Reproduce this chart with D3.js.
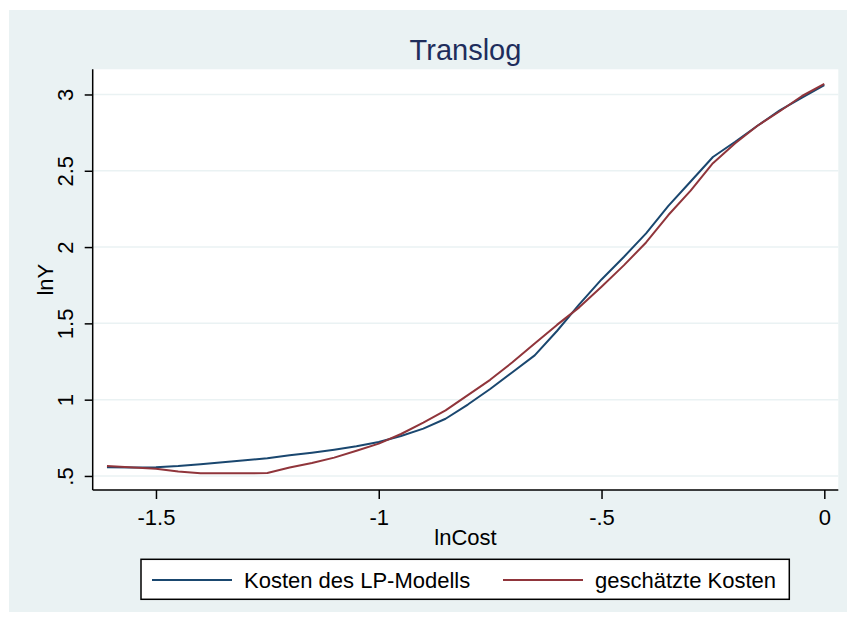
<!DOCTYPE html>
<html>
<head>
<meta charset="utf-8">
<script src="https://cdn.jsdelivr.net/npm/d3@7"></script>
<style>
  html, body { margin: 0; padding: 0; background: #ffffff; }
  svg { display: block; font-family: "Liberation Sans", Arial, sans-serif; }
</style>
</head>
<body>
<svg id="chart" width="847" height="618"></svg>
<script>
// ---- Data ----
const lnCost = [-1.61, -1.55, -1.50, -1.45, -1.40, -1.35, -1.30, -1.25, -1.20, -1.15,
                -1.10, -1.05, -1.00, -0.95, -0.90, -0.85, -0.80, -0.75, -0.70, -0.65,
                -0.60, -0.55, -0.50, -0.45, -0.40, -0.35, -0.30, -0.25, -0.20, -0.15,
                -0.10, -0.05, 0.00];
const kostenLP = [0.557, 0.556, 0.557, 0.565, 0.577, 0.590, 0.603, 0.616, 0.635, 0.652,
                  0.672, 0.695, 0.722, 0.762, 0.810, 0.875, 0.968, 1.070, 1.180, 1.290,
                  1.450, 1.625, 1.788, 1.935, 2.090, 2.270, 2.430, 2.590, 2.690, 2.795,
                  2.896, 2.980, 3.062];
const geschaetzt = [0.565, 0.556, 0.548, 0.530, 0.518, 0.518, 0.518, 0.519, 0.556, 0.585,
                    0.620, 0.665, 0.712, 0.775, 0.850, 0.930, 1.030, 1.130, 1.245, 1.368,
                    1.490, 1.605, 1.740, 1.880, 2.030, 2.210, 2.370, 2.550, 2.680, 2.795,
                    2.890, 2.990, 3.069];
const xTicks = [-1.5, -1, -0.5, 0];
const xTickLabels = ["-1.5", "-1", "-.5", "0"];
const yTicks = [0.5, 1, 1.5, 2, 2.5, 3];
const yTickLabels = [".5", "1", "1.5", "2", "2.5", "3"];
const seriesNames = ["Kosten des LP-Modells", "geschätzte Kosten"];
const seriesColors = ["#1a476f", "#90353b"];
const titleText = "Translog";
const xTitle = "lnCost";
const yTitle = "lnY";

// ---- Layout ----
const svg = d3.select("#chart");
const L = 92.7, R = 838.3, T = 69.3, B = 490;
const x = d3.scaleLinear().domain([-1.642, 0.0314]).range([L, R]);
const y = d3.scaleLinear().domain([0.408, 3.165]).range([B, T]);

// background
svg.append("rect").attr("x", 9).attr("y", 10).attr("width", 838).attr("height", 602)
   .attr("fill", "#eaf2f3");
svg.append("rect").attr("x", L).attr("y", T).attr("width", R - L).attr("height", B - T)
   .attr("fill", "#ffffff");

// gridlines
svg.append("g").selectAll("line").data(yTicks).join("line")
   .attr("x1", L).attr("x2", R)
   .attr("y1", d => y(d)).attr("y2", d => y(d))
   .attr("stroke", "#eaf2f3").attr("stroke-width", 1.5);

// series
const series = [kostenLP, geschaetzt];
const line = d3.line().x((d, i) => x(lnCost[i])).y(d => y(d));
series.forEach((s, k) => {
  svg.append("path").datum(s).attr("d", line)
     .attr("fill", "none").attr("stroke", seriesColors[k])
     .attr("stroke-width", 2).attr("stroke-linejoin", "round");
});

// x axis
const xAxis = d3.axisBottom(x).tickValues(xTicks)
  .tickFormat((d, i) => xTickLabels[i]).tickSize(9).tickSizeOuter(0).tickPadding(10);
const gx = svg.append("g").attr("transform", `translate(0,${B})`).call(xAxis);
gx.select(".domain").attr("stroke", "#000").attr("stroke-width", 1.5)
  .attr("d", `M${L},0H${R}`);
gx.selectAll(".tick line").attr("stroke", "#000").attr("stroke-width", 1.5);
gx.selectAll(".tick text").attr("font-size", 22).attr("fill", "#000")
  .attr("font-family", "Liberation Sans, Arial, sans-serif")
  .attr("dy", null).attr("y", 35);

// y axis
const yAxis = d3.axisLeft(y).tickValues(yTicks)
  .tickFormat((d, i) => yTickLabels[i]).tickSize(8).tickSizeOuter(0);
const gy = svg.append("g").attr("transform", `translate(${L},0)`).call(yAxis);
gy.select(".domain").attr("stroke", "#000").attr("stroke-width", 1.5)
  .attr("d", `M0,${T}V${B}`);
gy.selectAll(".tick line").attr("stroke", "#000").attr("stroke-width", 1.5);
gy.selectAll(".tick text").attr("font-size", 22).attr("fill", "#000")
  .attr("font-family", "Liberation Sans, Arial, sans-serif")
  .attr("x", null).attr("dy", null)
  .attr("text-anchor", "middle")
  .attr("transform", `translate(${73 - L},0) rotate(-90)`);

// title
svg.append("text").attr("x", (L + R) / 2).attr("y", 59.5)
   .attr("text-anchor", "middle").attr("font-size", 29).attr("fill", "#1e2d5c")
   .text(titleText);

// axis titles
svg.append("text").attr("x", (L + R) / 2).attr("y", 545)
   .attr("text-anchor", "middle").attr("font-size", 22).attr("fill", "#000")
   .text(xTitle);
svg.append("text").attr("transform", `translate(53,${(T + B) / 2}) rotate(-90)`)
   .attr("text-anchor", "middle").attr("font-size", 22).attr("fill", "#000")
   .text(yTitle);

// legend
svg.append("rect").attr("x", 141).attr("y", 559.3).attr("width", 648.3).attr("height", 40)
   .attr("fill", "#fff").attr("stroke", "#000").attr("stroke-width", 1.5);
const legX = [152, 503];
seriesNames.forEach((name, k) => {
  svg.append("line").attr("x1", legX[k]).attr("x2", legX[k] + 80)
     .attr("y1", 580).attr("y2", 580)
     .attr("stroke", seriesColors[k]).attr("stroke-width", 2);
  svg.append("text").attr("x", legX[k] + 92).attr("y", 588)
     .attr("font-size", 22).attr("fill", "#000").text(name);
});
</script>
</body>
</html>
